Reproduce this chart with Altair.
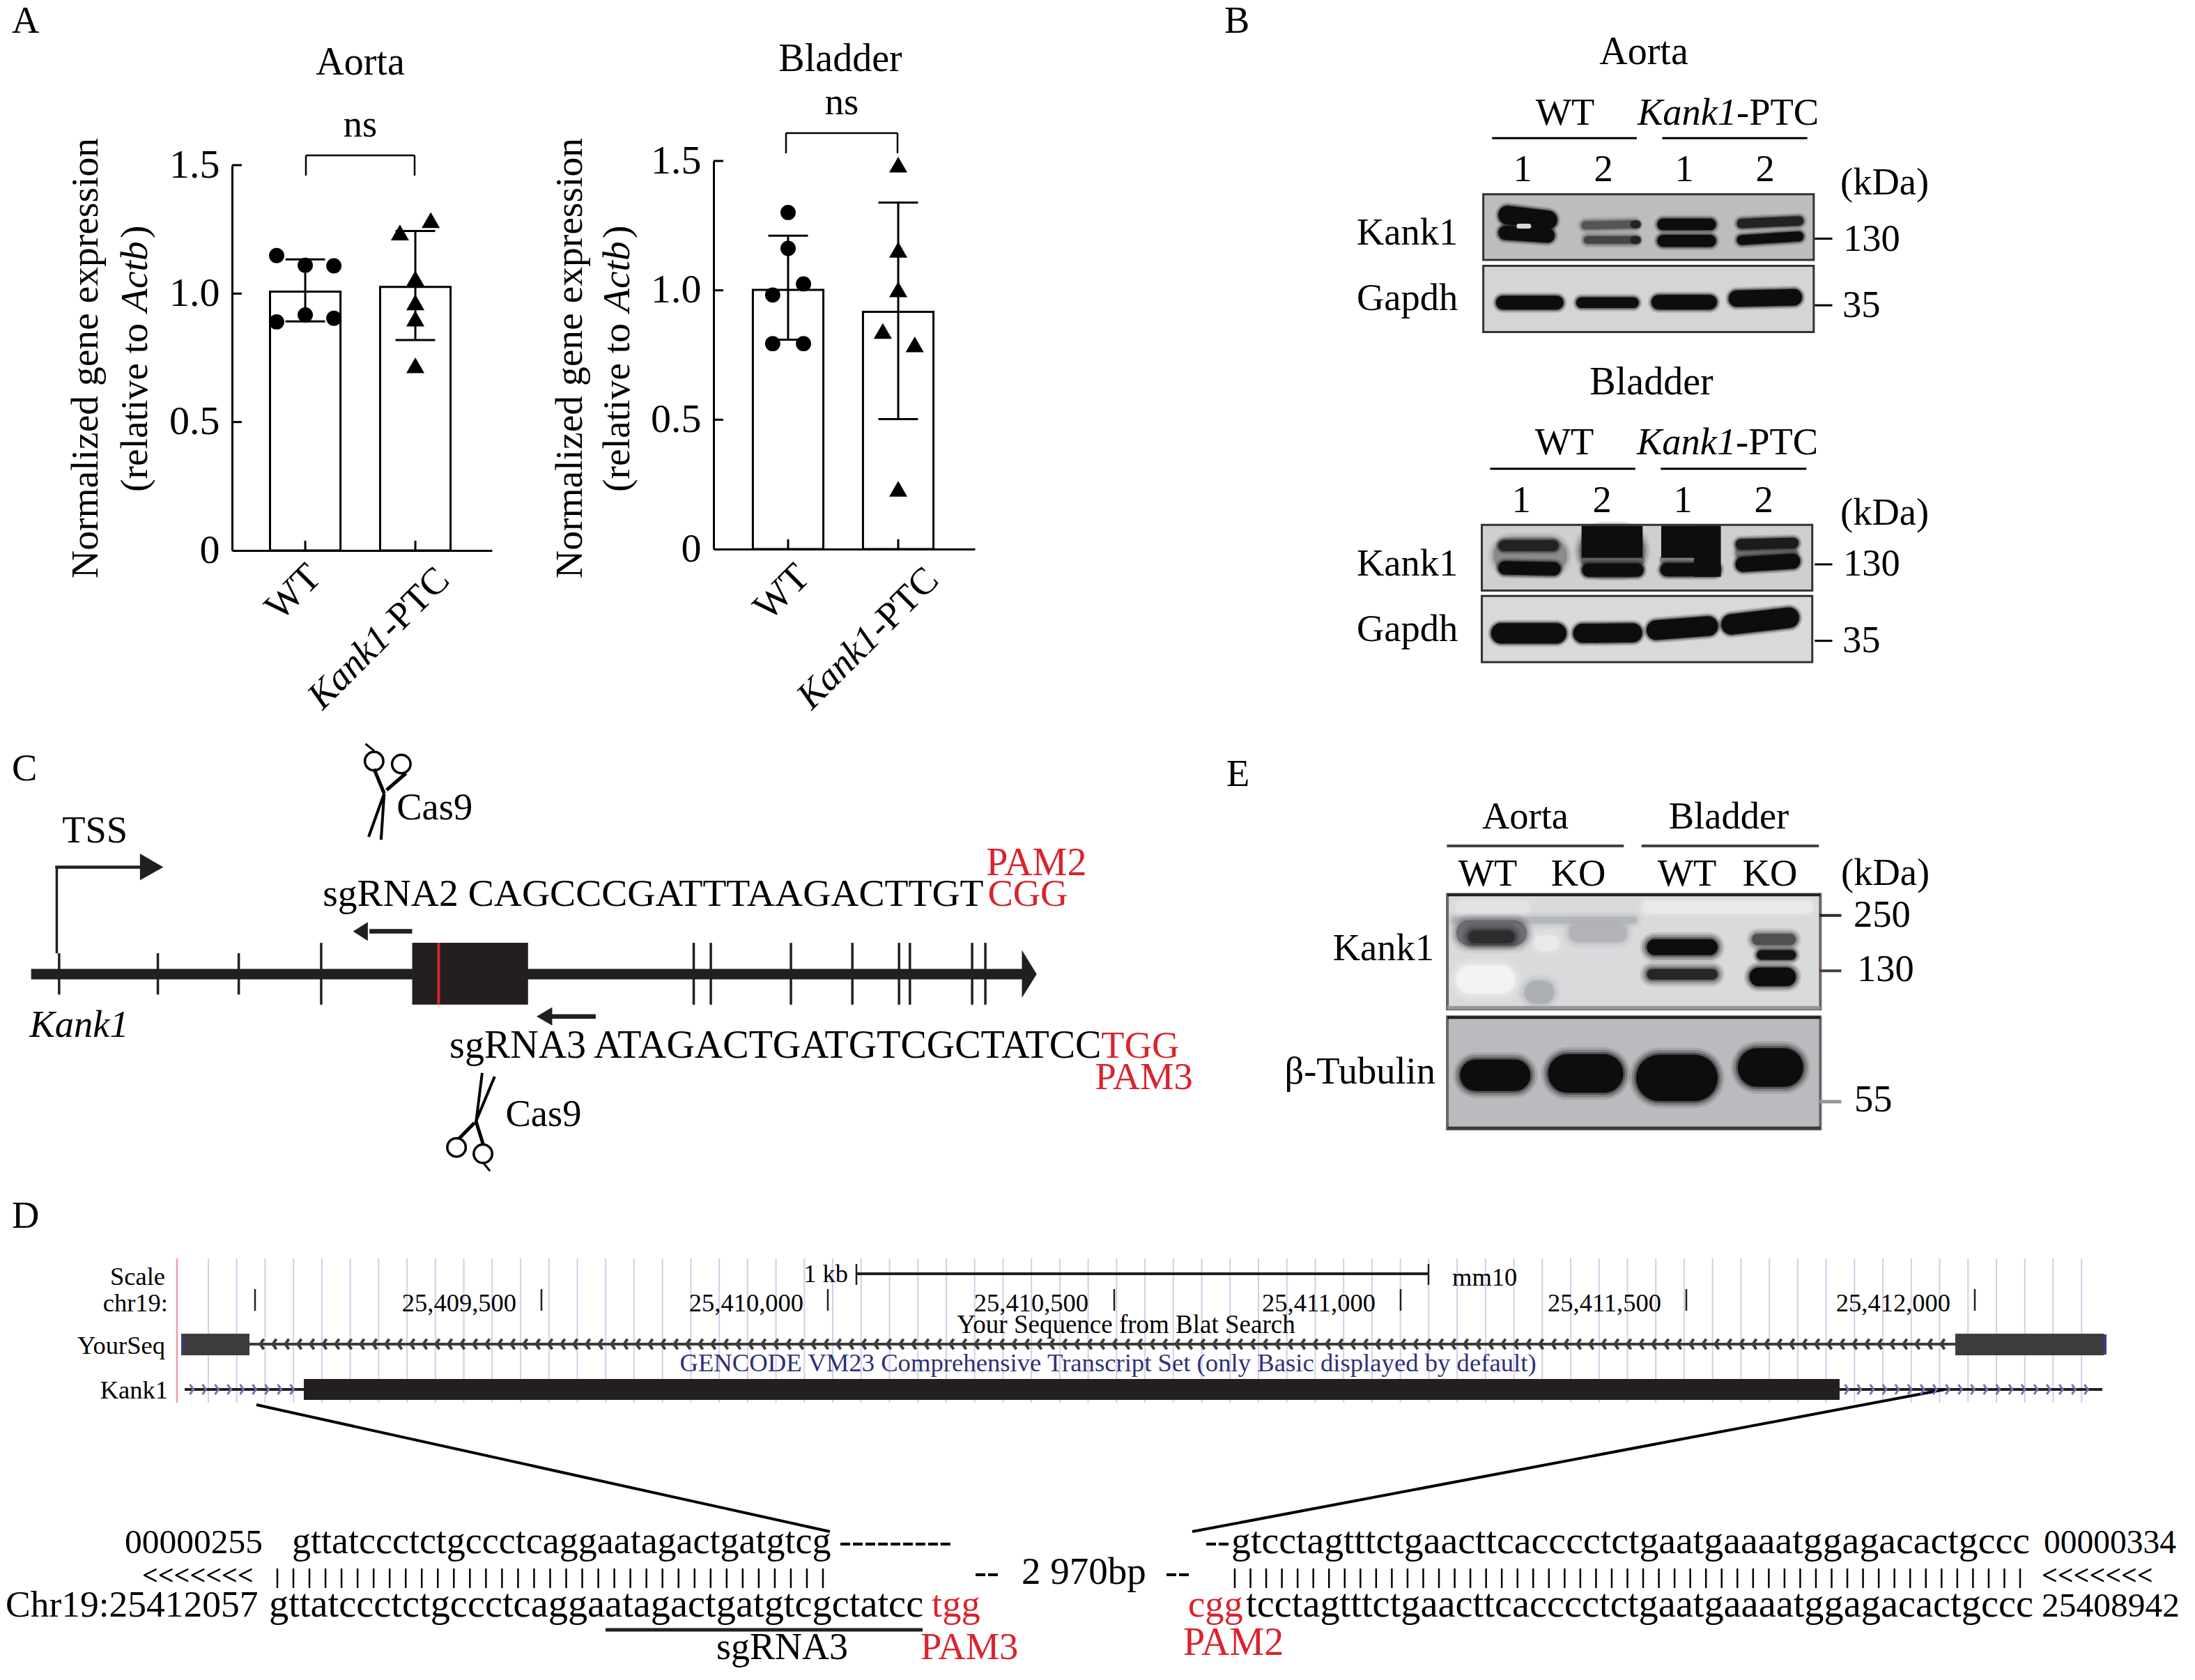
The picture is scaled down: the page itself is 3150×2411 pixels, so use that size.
import altair as alt
import pandas as pd

W, H = 3134, 2395
FONT = "Liberation Serif"
INK = "#231f20"
RED = "#d9232e"
NAVY = "#2e3177"

# ---------- panel A data ----------
groups = ["WT", "Kank1-PTC"]
aorta_means = [1.008, 1.026]
aorta_hi = [1.133, 1.244]
aorta_lo = [0.892, 0.819]
aorta_wt = [1.148, 1.110, 1.108, 0.890, 0.917, 0.904]
aorta_wt_dodge = [-0.26, 0, 0.26, -0.26, 0, 0.26]
aorta_ptc = [1.286, 1.238, 1.059, 0.966, 0.903, 0.721]
aorta_ptc_dodge = [0.14, -0.14, 0, 0, 0, 0]
bladder_means = [1.002, 0.917]
bladder_hi = [1.211, 1.339]
bladder_lo = [0.809, 0.502]
bladder_wt = [1.301, 1.162, 1.025, 0.982, 0.794, 0.794]
bladder_wt_dodge = [0, 0, 0.14, -0.14, -0.14, 0.14]
bladder_ptc = [1.486, 1.157, 1.004, 0.843, 0.791, 0.233]
bladder_ptc_dodge = [0, 0, 0, -0.14, 0.15, 0]
y_ticks = [0, 0.5, 1.0, 1.5]

layers = []


def panel(xpx, xdom, ypx, means, hi, lo, wt, wtd, ptc, ptcd):
    sx = alt.Scale(domain=xdom, range=[xpx[0] - 8, xpx[1] - 8], nice=False, zero=False)
    sy = alt.Scale(domain=[0, 1.5], range=[ypx[0] - 8, ypx[1] - 8], nice=False, zero=False)
    X = lambda f, **k: alt.X(f, scale=sx, axis=None, **k)
    Y = lambda f, **k: alt.Y(f, scale=sy, axis=None, **k)
    bars = pd.DataFrame({"a": [0.68, 1.68], "b": [1.32, 2.32], "c": [1, 2], "m": means,
                         "hi": hi, "lo": lo, "ca": [0.82, 1.82], "cb": [1.18, 2.18], "z": [0, 0], "t": [0.038, 0.038]})
    layers.append(alt.Chart(bars).mark_bar(fill="white", stroke="black", strokeWidth=3).encode(
        x=alt.X("a:Q", scale=sx, axis=alt.Axis(orient="bottom", offset=-(H - (ypx[0] - 8)), labels=False, ticks=False,
                                               title=None, grid=False, domainColor="black", domainWidth=3)),
        x2="b:Q",
        y=alt.Y("m:Q", scale=sy, axis=alt.Axis(orient="left", offset=-(xpx[0] - 8), values=y_ticks, ticks=False, grid=False,
                                               title=None, domainColor="black", domainWidth=3, labelPadding=18,
                                               labelFont=FONT, labelFontSize=58, labelColor="black",
                                               labelExpr="datum.value==0?'0':format(datum.value,'.1f')")),
        y2="z:Q"))
    layers.append(alt.Chart(bars).mark_rule(color="black", strokeWidth=3).encode(x=X("c:Q"), y=Y("z:Q"), y2="t:Q"))
    layers.append(alt.Chart(pd.DataFrame({"t": y_ticks[1:]})).mark_rule(color="black", strokeWidth=3).encode(
        y=Y("t:Q"), x=alt.value(xpx[0] - 8), x2=alt.value(xpx[0] + 6)))
    layers.append(alt.Chart(bars).mark_rule(color="black", strokeWidth=3).encode(x=X("c:Q"), y=Y("lo:Q"), y2="hi:Q"))
    layers.append(alt.Chart(bars).mark_rule(color="black", strokeWidth=3).encode(x=X("ca:Q"), x2="cb:Q", y=Y("hi:Q")))
    layers.append(alt.Chart(bars).mark_rule(color="black", strokeWidth=3).encode(x=X("ca:Q"), x2="cb:Q", y=Y("lo:Q")))
    d1 = pd.DataFrame({"x": [1 + d for d in wtd], "v": wt})
    d2 = pd.DataFrame({"x": [2 + d for d in ptcd], "v": ptc})
    layers.append(alt.Chart(d1).mark_point(shape="circle", filled=True, color="black", size=480, opacity=1).encode(x=X("x:Q"), y=Y("v:Q")))
    layers.append(alt.Chart(d2).mark_point(shape="triangle-up", filled=True, color="black", size=680, opacity=1).encode(x=X("x:Q"), y=Y("v:Q")))


panel((333, 706), [0.335, 2.696], (790, 237), aorta_means, aorta_hi, aorta_lo, aorta_wt, aorta_wt_dodge, aorta_ptc, aorta_ptc_dodge)
panel((1024, 1399), [0.323, 2.696], (788, 231), bladder_means, bladder_hi, bladder_lo, bladder_wt, bladder_wt_dodge, bladder_ptc, bladder_ptc_dodge)

# ---------- image-pixel canvas scales for annotation ----------
SX = alt.Scale(domain=[8, 8 + W], range=[0, W], nice=False, zero=False)
SY = alt.Scale(domain=[8, 8 + H], range=[0, H], nice=False, zero=False)
CX = lambda f: alt.X(f, scale=SX, axis=None)
CY = lambda f: alt.Y(f, scale=SY, axis=None)


# crop-coordinate helpers
def bx(c): return 1740 + c / 1.4255
def by(c): return c / 1.568
def ex(c): return 1760 + c / 1.4255
def ey(c): return 1080 + c / 2.703
def cx(c): return c / 0.896
def cy(c): return 1060 + c / 2.412


rects, bands, flat, segs, boxes, tris, grid = [], [], [], [], [], [], []


def rect(x1, y1, x2, y2, fill):
    rects.append(dict(x=x1, x2=x2, y=y1, y2=y2, f=fill))


def seg(x1, y1, x2, y2, w=3, c="black"):
    segs.append(dict(x=x1, y=y1, x2=x2, y2=y2, w=w, c=c))


def tri(i, x0, y0, y1, x1, ym):
    tris.append(dict(i=i, x=x0, y=y0, y2=y1))
    tris.append(dict(i=i, x=x1, y=ym, y2=ym))


def band(x1, y1, x2, y2, w, c="#0d0d0d", soft=5, op=1):
    r = w / 2
    xa, xb = x1 + r, x2 - r
    if xb < xa:
        xa = xb = (x1 + x2) / 2
    if soft:
        bands.append(dict(x=xa, y=y1, x2=xb, y2=y2, w=w + soft * 2, c=c, o=0.12 * op))
        bands.append(dict(x=xa, y=y1, x2=xb, y2=y2, w=w + soft * 1.3, c=c, o=0.22 * op))
        bands.append(dict(x=xa, y=y1, x2=xb, y2=y2, w=w + soft * 0.6, c=c, o=0.38 * op))
    bands.append(dict(x=xa, y=y1, x2=xb, y2=y2, w=w, c=c, o=op))


def bb(a, b, c, d, w, col="#0d0d0d", soft=5, op=1):
    band(bx(a), by(b), bx(c), by(d), w / 1.568, col, soft, op)


def eb(a, b, c, d, w, col="#0d0d0d", soft=10, op=1):
    band(ex(a), ey(b), ex(c), ey(d), w / 2.703, col, soft, op)


def block(a, top, c, bottom):
    flat.append(dict(x=bx(a), x2=bx(c), y=(by(top) + by(bottom)) / 2, w=by(bottom) - by(top)))


# ---------- panel B blots ----------
for (x1, x2, y1, y2, f) in [(554, 1230, 437, 585, "#bcbebe"), (554, 1230, 598, 747, "#d4d5d5"),
                            (551, 1227, 1181, 1329, "#cfcfcf"), (551, 1227, 1341, 1490, "#d9d9d9")]:
    rect(bx(x1), by(y1), bx(x2), by(y2), f)
    boxes.append(dict(x=bx(x1), x2=bx(x2), y=by(y1), y2=by(y2), s="#333333", w=3))

bb(585, 484, 705, 495, 42)
bb(585, 524, 700, 530, 32)
bb(622, 509, 652, 509, 11, "#d8d8d8", 0)
bb(755, 507, 872, 505, 18, "#555555", 6)
bb(856, 505, 876, 505, 16, "#222222", 2)
bb(760, 540, 872, 540, 17, "#444444", 6)
bb(856, 540, 876, 540, 16, "#222222", 2)
bb(910, 505, 1030, 505, 26)
bb(910, 542, 1030, 542, 27)
bb(1073, 503, 1209, 497, 21, "#222222")
bb(1073, 540, 1209, 532, 22)
bb(580, 681, 718, 681, 31)
bb(744, 681, 872, 681, 24)
bb(898, 680, 1032, 680, 33)
bb(1056, 672, 1206, 669, 37)

bb(575, 1250, 725, 1250, 80, "#8a8a8a", 8)
bb(585, 1228, 708, 1228, 24, "#222222")
bb(585, 1278, 712, 1280, 30)
bb(750, 1240, 885, 1240, 110, "#6f6f6f", 8)
block(755, 1183, 880, 1255)
bb(756, 1262, 882, 1262, 20, "#5f5f5f", 3)
bb(756, 1283, 882, 1283, 30)
block(918, 1183, 1038, 1255)
block(985, 1183, 1040, 1298)
bb(916, 1260, 990, 1260, 22, "#7d7d7d", 3)
bb(916, 1282, 1040, 1282, 30)
bb(1070, 1245, 1197, 1245, 30, "#777777")
bb(1070, 1225, 1199, 1222, 24, "#1c1c1c")
bb(1070, 1270, 1202, 1263, 34)
bb(570, 1425, 724, 1425, 46)
bb(738, 1425, 879, 1424, 43)
bb(888, 1418, 1034, 1409, 44)
bb(1041, 1405, 1200, 1390, 46)

# ---------- panel E blots ----------
rect(ex(452), ey(550), ex(1215), ey(995), "#d9dadc")
rect(ex(452), ey(1025), ex(1215), ey(1460), "#b9bbbe")
eb(460, 650, 840, 650, 26, "#a9abaf", 8, 0.6)
eb(470, 880, 590, 880, 110, "#f4f4f4", 12, 0.85)
eb(850, 600, 1200, 600, 50, "#ececec", 8, 0.7)
eb(470, 600, 620, 600, 50, "#e6e6e6", 8, 0.6)
eb(610, 930, 670, 930, 90, "#9fa2a8", 10, 0.6)
eb(630, 740, 680, 740, 60, "#eeeeee", 8, 0.7)
eb(470, 700, 615, 700, 100, "#5a5a5e", 10, 0.7)
eb(495, 715, 590, 715, 50, "#2c2c2e", 10)
eb(700, 700, 820, 700, 70, "#a6a8ad", 10, 0.6)
eb(860, 755, 1005, 755, 62)
eb(860, 860, 1005, 860, 42, "#262626")
eb(1075, 725, 1165, 725, 45, "#505050", 8)
eb(1085, 785, 1165, 785, 38, "#141414", 6)
eb(1070, 870, 1165, 870, 72, "#0d0d0d", 8)
eb(478, 1252, 622, 1252, 122)
eb(658, 1245, 812, 1245, 150)
eb(838, 1262, 1005, 1262, 180)
eb(1046, 1222, 1180, 1222, 150)

boxes.append(dict(x=ex(452), x2=ex(1215), y=ey(550), y2=ey(995), s="#6b6365", w=4))
boxes.append(dict(x=ex(452), x2=ex(1215), y=ey(1025), y2=ey(1460), s="#6b6365", w=4))
seg(ex(452), ey(552), ex(1215), ey(552), 4, "#231f20")
seg(ex(452), ey(1028), ex(1215), ey(1028), 4, "#231f20")
seg(ex(452), ey(1456), ex(1215), ey(1456), 4, "#3a3536")
seg(ex(452), ey(990), ex(1215), ey(990), 5, "#9a9395")
seg(ex(451), ey(362), ex(813), ey(362), 4, "#4a4041")
seg(ex(849), ey(362), ex(1212), ey(362), 4, "#4a4041")
seg(ex(1213), ey(632), ex(1258), ey(632), 4, "#2d2829")
seg(ex(1213), ey(847), ex(1258), ey(847), 4, "#4a4041")
seg(ex(1213), ey(1354), ex(1258), ey(1354), 5, "#9a9395")

# panel B rules
seg(bx(572), by(311), bx(868), by(311))
seg(bx(920), by(311), bx(1217), by(311))
seg(bx(568), by(1055), bx(865), by(1055))
seg(bx(917), by(1055), bx(1215), by(1055))
for yy in [537, 687, 1270, 1442]:
    seg(bx(1232), by(yy), bx(1268), by(yy))

# panel A brackets
for (a, b, top, bot) in [(439, 595, 223, 252), (1128, 1288, 191, 220)]:
    seg(a, top, b, top, 2.5)
    seg(a, top, a, bot, 2.5)
    seg(b, top, b, bot, 2.5)

# ---------- panel C gene model ----------
seg(cx(40), cy(815), cx(1318), cy(815), 15, INK)
for c in [76, 203, 307]:
    seg(cx(c), cy(743), cx(c), cy(886), 3.5, INK)
for c in [413, 892, 914, 1017, 1096, 1156, 1170, 1250, 1267]:
    seg(cx(c), cy(707), cx(c), cy(921), 3.5, INK)
rect(cx(530), cy(707), cx(679), cy(921), INK)
seg(cx(564), cy(707), cx(564), cy(921), 4, RED)
tri(0, cx(1314), cy(732), cy(897), cx(1333), cy(815))
seg(cx(73), cy(743), cx(73), cy(443), 3.5, INK)
seg(cx(71), cy(445), cx(185), cy(445), 4.5, INK)
tri(1, cx(180), cy(398), cy(490), cx(210), cy(445))
seg(cx(475), cy(667), cx(530), cy(667), 6.5, INK)
tri(2, cx(473), cy(635), cy(700), cx(454), cy(667))
seg(cx(708), cy(962), cx(766), cy(962), 6.5, INK)
tri(3, cx(710), cy(930), cy(993), cx(690), cy(962))

# scissors
seg(cx(470), cy(18), cx(481), cy(42), 3)
seg(cx(481), cy(105), cx(494), cy(190), 5)
seg(cx(494), cy(190), cx(490), cy(350), 4)
seg(cx(522), cy(120), cx(497), cy(178), 5)
seg(cx(494), cy(190), cx(474), cy(340), 4)
seg(cx(620), cy(1157), cx(612), cy(1330), 4)
seg(cx(636), cy(1170), cx(612), cy(1325), 4)
seg(cx(612), cy(1325), cx(621), cy(1402), 5)
seg(cx(610), cy(1330), cx(590), cy(1385), 5)
seg(cx(622), cy(1470), cx(630), cy(1497), 3)
rings = pd.DataFrame({"x": [cx(481), cx(516), cx(587), cx(621)], "y": [cy(78), cy(88), cy(1415), cy(1437)]})

# ---------- panel D browser tracks ----------
seg(254, 1806, 254, 2013, 2.5, "#f09aa5")
gx = 299
while gx <= 2988:
    grid.append(dict(x=gx, y=1806, y2=2013))
    gx += 40.73
seg(1229, 1828, 2050, 1828, 4, INK)
seg(1229, 1814, 1229, 1844, 2.5, INK)
seg(2050, 1814, 2050, 1844, 2.5, INK)
for xt in [366, 777, 1188, 1599, 2010, 2420, 2834]:
    seg(xt, 1850, xt, 1881, 2.5, INK)
seg(358, 1929, 2806, 1929, 4, "#3c3c3b")
seg(265, 1994, 436, 1994, 4, INK)
seg(2640, 1994, 3017, 1994, 4, INK)
rect(260, 1914, 358, 1945, "#3c3c3b")
rect(2806, 1914, 3019, 1945, "#3c3c3b")
rect(260, 1915, 263, 1944, "#3f3a8c")
rect(3019, 1915, 3023, 1944, "#3f3a8c")
rect(436, 1979, 2640, 2009, INK)
seg(368, 2016, 1191, 2198, 4, "black")
seg(1711, 2198, 2791, 1994, 4, "black")
left_chev = [358 + 18 * i for i in range(1, 136)]
right_chev = [275 + 18 * i for i in range(0, 9)] + [2650 + 18.1 * i for i in range(0, 20)]

# alignment bars
for i in range(35):
    xv = 398 + (1181 - 398) * i / 34
    seg(xv, 2251, xv, 2279, 2.5, "black")
for i in range(51):
    xv = 1772 + (2899 - 1772) * i / 50
    seg(xv, 2251, xv, 2279, 2.5, "black")
seg(869, 2339, 1324, 2339, 5, INK)

# ---------- text: x, baseline y, string, size, colour, angle ----------
S = 54.5
T = 56
SM = 36.5
left_txt = [
    (17, 47, "A", S), (1757, 47, "B", S), (17, 1120, "C", S), (17, 1762, "D", S), (1760, 1128, "E", S),
    (1947, 351, "Kank1", S), (1947, 445, "Gapdh", S), (1947, 826, "Kank1", S), (1947, 920, "Gapdh", S),
    (2641, 279, "(kDa)", S), (2641, 753, "(kDa)", S), (2645, 360, "130", S), (2644, 455, "35", S),
    (2645, 826, "130", S), (2644, 936, "35", S),
    (2642, 1270, "(kDa)", S), (2660, 1330, "250", S), (2665, 1408, "130", S), (2661, 1595, "55", S),
    (2492, 179, "-PTC", S), (2491, 652, "-PTC", S),
    (cx(510), cy(280), "Cas9", S), (cx(650), cy(1340), "Cas9", S),
    (cx(415), cy(578), "sgRNA2 CAGCCCGATTTAAGACTTGT", 55.6), (cx(578), cy(1105), "sgRNA3 ATAGACTGATGTCGCTATCC", 56),
    (179, 2229, "00000255", 49.5), (419, 2229, "gttatccctctgccctcaggaatagactgatgtcg", 54),
    (1204, 2229, "---------", 54),
    (8, 2320, "Chr19:25412057", 53.5), (386, 2320, "gttatccctctgccctcaggaatagactgatgtcgctatcc", 56.4),
    (1028, 2381, "sgRNA3", 54), (1398, 2273, "--", 54), (1466, 2273, "2 970bp", 55), (1672, 2273, "--", 54),
    (1729, 2229, "--", 54), (1767, 2229, "gtcctagtttctgaacttcacccctctgaatgaaaatggagacactgccc", 55.8),
    (2933, 2229, "00000334", 47.5),
    (1788, 2320, "tcctagtttctgaacttcacccctctgaatgaaaatggagacactgccc", 56.4), (2930, 2320, "25408942", 49.5),
    (2084, 1845, "mm10", SM),
]
chev_txt = [(204, 2274, "<<<<<<<", 40), (2930, 2274, "<<<<<<<", 40)]
red_txt = [
    (cx(1268), cy(472), "PAM2", 56), (cx(1270), cy(578), "CGG", S),
    (cx(1416), cy(1105), "TGG", S), (cx(1408), cy(1213), "PAM3", S),
    (1337, 2320, "tgg", S), (1321, 2381, "PAM3", S), (1705, 2320, "cgg", S), (1698, 2375, "PAM2", 56),
]
center_txt = [
    (517, 107, "Aorta", T), (1206, 102, "Bladder", T), (517, 196, "ns", S), (1208, 164, "ns", S),
    (2359, 92, "Aorta", T), (2246, 179, "WT", S), (2370, 566, "Bladder", T), (2245, 652, "WT", S),
    (2185, 260, "1", S), (2301, 260, "2", S), (2417, 260, "1", S), (2533, 260, "2", S),
    (2183, 735, "1", S), (2299, 735, "2", S), (2415, 735, "1", S), (2531, 735, "2", S),
    (2189, 1189, "Aorta", S), (2481, 1189, "Bladder", S),
    (2135, 1271, "WT", S), (2265, 1271, "KO", S), (2421, 1271, "WT", S), (2540, 1271, "KO", S),
    (cx(122), cy(360), "TSS", S),
    (1616, 1913, "Your Sequence from Blat Search", 37),
]
right_txt = [
    (2058, 1378, "Kank1", S), (2060, 1555, "β-Tubulin", S),
    (1217, 1840, "1 kb", SM), (237, 1844, "Scale", SM), (241, 1882, "chr19:", SM),
    (741, 1882, "25,409,500", SM), (1153, 1882, "25,410,000", SM), (1562, 1882, "25,410,500", SM),
    (1974, 1882, "25,411,000", SM), (2384, 1882, "25,411,500", SM), (2799, 1882, "25,412,000", SM),
    (237, 1943, "YourSeq", SM), (241, 2007, "Kank1", SM),
]
italic_left = [(2350, 179, "Kank1", S), (2349, 652, "Kank1", S), (cx(38), cy(1032), "Kank1", S)]
navy_center = [(1590, 1968, "GENCODE VM23 Comprehensive Transcript Set (only Basic displayed by default)", 36.7)]

# rotated text: x, y, string, size, angle
rot_roman = [
    (140, 514, "Normalized gene expression", 55.5, 270), (835, 514, "Normalized gene expression", 55.5, 270),
    (433, 862, "WT", 56, 315), (1134, 862, "WT", 56, 315),
    (606, 877, "-PTC", S, 315), (1308, 877, "-PTC", S, 315),
]
rot_left = [
    (211, 706, "(relative to ", 55.5, 270), (903, 706, "(relative to ", 55.5, 270),
    (211, 342, ")", 55.5, 270), (903, 342, ")", 55.5, 270),
]
rot_italic_left = [(211, 448, "Actb", 55.5, 270), (903, 448, "Actb", 55.5, 270)]
rot_italic = [(513, 970, "Kank1", S, 315), (1215, 970, "Kank1", S, 315)]


def tbl(rows, color="black"):
    return pd.DataFrame([dict(x=r[0], y=r[1], t=r[2], s=r[3], c=color, a=(r[4] if len(r) > 4 else 0)) for r in rows])


def text_layer(rows, align, color="black", style="normal", weight="normal"):
    return alt.Chart(tbl(rows, color)).mark_text(align=align, baseline="alphabetic", font=FONT, fontStyle=style, fontWeight=weight).encode(
        x=CX("x:Q"), y=CY("y:Q"), text="t:N",
        size=alt.Size("s:Q", scale=None), angle=alt.Angle("a:Q", scale=None),
        color=alt.Color("c:N", scale=None))


# ---------- assemble ----------
layers.append(alt.Chart(pd.DataFrame(grid)).mark_rule(color="#d2cfe8", strokeWidth=2).encode(x=CX("x:Q"), y=CY("y:Q"), y2="y2:Q"))
rdf = pd.DataFrame(rects)
layers.append(alt.Chart(rdf).mark_rect().encode(x=CX("x:Q"), x2="x2:Q", y=CY("y:Q"), y2="y2:Q", color=alt.Color("f:N", scale=None)))
layers.append(alt.Chart(pd.DataFrame(bands)).mark_rule(strokeCap="round").encode(
    x=CX("x:Q"), x2="x2:Q", y=CY("y:Q"), y2="y2:Q",
    strokeWidth=alt.StrokeWidth("w:Q", scale=None), color=alt.Color("c:N", scale=None), opacity=alt.Opacity("o:Q", scale=None)))
layers.append(alt.Chart(pd.DataFrame(flat)).mark_rule(color="#0d0d0d").encode(
    x=CX("x:Q"), x2="x2:Q", y=CY("y:Q"), strokeWidth=alt.StrokeWidth("w:Q", scale=None)))
layers.append(alt.Chart(pd.DataFrame(boxes)).mark_rect(fillOpacity=0).encode(
    x=CX("x:Q"), x2="x2:Q", y=CY("y:Q"), y2="y2:Q",
    stroke=alt.Stroke("s:N", scale=None), strokeWidth=alt.StrokeWidth("w:Q", scale=None)))
layers.append(alt.Chart(pd.DataFrame(segs)).mark_rule().encode(
    x=CX("x:Q"), x2="x2:Q", y=CY("y:Q"), y2="y2:Q",
    strokeWidth=alt.StrokeWidth("w:Q", scale=None), color=alt.Color("c:N", scale=None)))
layers.append(alt.Chart(pd.DataFrame(tris)).mark_area(color=INK, orient="vertical", opacity=1).encode(
    x=CX("x:Q"), y=CY("y:Q"), y2="y2:Q", detail="i:N"))
layers.append(alt.Chart(rings).mark_point(shape="circle", filled=False, color="black", strokeWidth=3.5, size=700, opacity=1).encode(
    x=CX("x:Q"), y=CY("y:Q")))
layers.append(alt.Chart(pd.DataFrame({"x": left_chev, "y": [1929] * len(left_chev)})).mark_point(
    shape="M0.35,-1L-0.35,0L0.35,1", filled=False, color="#3c3c3b", strokeWidth=4, size=220, opacity=1).encode(x=CX("x:Q"), y=CY("y:Q")))
layers.append(alt.Chart(pd.DataFrame({"x": right_chev, "y": [1994] * len(right_chev)})).mark_point(
    shape="M-0.35,-1L0.35,0L-0.35,1", filled=False, color="#7570b3", strokeWidth=3, size=200, opacity=1).encode(x=CX("x:Q"), y=CY("y:Q")))

layers += [
    text_layer(left_txt, "left"),
    text_layer(chev_txt, "left", weight="bold"),
    text_layer(red_txt, "left", RED),
    text_layer(center_txt, "center"),
    text_layer(right_txt, "right"),
    text_layer(italic_left, "left", style="italic"),
    text_layer(navy_center, "center", NAVY),
    text_layer(rot_roman, "center"),
    text_layer(rot_left, "left"),
    text_layer(rot_italic_left, "left", style="italic"),
    text_layer(rot_italic, "center", style="italic"),
]

chart = alt.layer(*layers).resolve_scale(x="independent", y="independent").resolve_axis(x="independent", y="independent").properties(
    width=W, height=H, padding=0, autosize=alt.AutoSizeParams(type="none"), background="white"
).configure_view(stroke=None)

chart.save("out.html", embed_options={"renderer": "svg", "actions": False})
